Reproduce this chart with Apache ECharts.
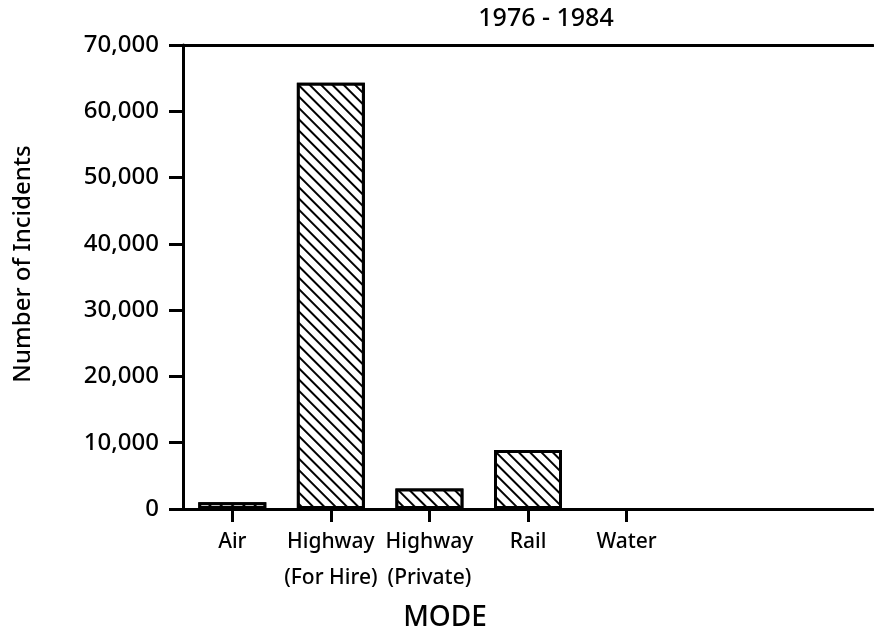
<!DOCTYPE html>
<html>
<head>
<meta charset="utf-8">
<script src="https://cdn.jsdelivr.net/npm/echarts@6/dist/echarts.min.js"></script>
<style>html,body{margin:0;padding:0;background:#fff}#c{width:874px;height:642px}</style>
</head>
<body>
<div id="c"></div>
<script>
var categories = ['Air', 'Highway\n(For Hire)', 'Highway\n(Private)', 'Rail', 'Water', '', ''];
var incidents = [1000, 64300, 3100, 8900, 0];
var yTicks = [0, 10000, 20000, 30000, 40000, 50000, 60000, 70000];
var titleText = '1976 - 1984';
var xName = 'MODE';
var yName = 'Number of Incidents';

var FONT = 'Noto Sans';
var chart = echarts.init(document.getElementById('c'), null, {renderer: 'canvas'});
function fmt(v) { return v.toString().replace(/\B(?=(\d{3})+(?!\d))/g, ','); }
var barData = incidents.map(function (v) {
  return v === 0 ? {value: v, itemStyle: {borderWidth: 0}} : v;
});
chart.setOption({
  animation: false,
  backgroundColor: '#fff',
  grid: {left: 183, right: 1, top: 45, bottom: 133},
  xAxis: [{
    type: 'category',
    data: categories,
    axisLine: {lineStyle: {color: '#000', width: 3}},
    axisTick: {show: true, length: 13, lineStyle: {color: '#000', width: 3}, alignWithLabel: true,
      interval: function (i, v) { return v !== ''; }},
    axisLabel: {color: '#000', fontFamily: FONT, fontSize: 21, fontWeight: 500, lineHeight: 36, margin: 15, interval: 0}
  }, {
    type: 'category',
    position: 'top',
    data: categories,
    axisLine: {show: true, lineStyle: {color: '#000', width: 3}},
    axisTick: {show: false},
    axisLabel: {show: false}
  }],
  yAxis: {
    type: 'value',
    min: yTicks[0],
    max: yTicks[yTicks.length - 1],
    interval: yTicks[1] - yTicks[0],
    name: yName,
    nameLocation: 'middle',
    nameGap: 148,
    nameTextStyle: {color: '#000', fontFamily: FONT, fontSize: 24, fontWeight: 500, padding: [0, 0, 0, 26]},
    axisLine: {show: true, lineStyle: {color: '#000', width: 3}},
    axisTick: {show: true, length: 14, lineStyle: {color: '#000', width: 3}},
    axisLabel: {color: '#000', fontFamily: FONT, fontSize: 24, fontWeight: 500, margin: 24, formatter: fmt},
    splitLine: {show: false}
  },
  graphic: [
    {type: 'text', x: 546, y: 19, style: {text: titleText, fill: '#000', font: '500 25px "' + FONT + '"', textAlign: 'center', textVerticalAlign: 'middle'}},
    {type: 'text', x: 445, y: 618, style: {text: xName, fill: '#000', font: '500 28px "' + FONT + '"', textAlign: 'center', textVerticalAlign: 'middle'}}
  ],
  series: [{
    type: 'bar',
    data: barData,
    barWidth: 68,
    itemStyle: {
      color: '#fff',
      borderColor: '#000',
      borderWidth: 3,
      decal: {symbol: 'rect', symbolSize: 1, dashArrayX: [1, 0], dashArrayY: [1.5, 5.5], rotation: Math.PI / 4, color: '#000', backgroundColor: '#fff'}
    }
  }]
});
</script>
</body>
</html>
